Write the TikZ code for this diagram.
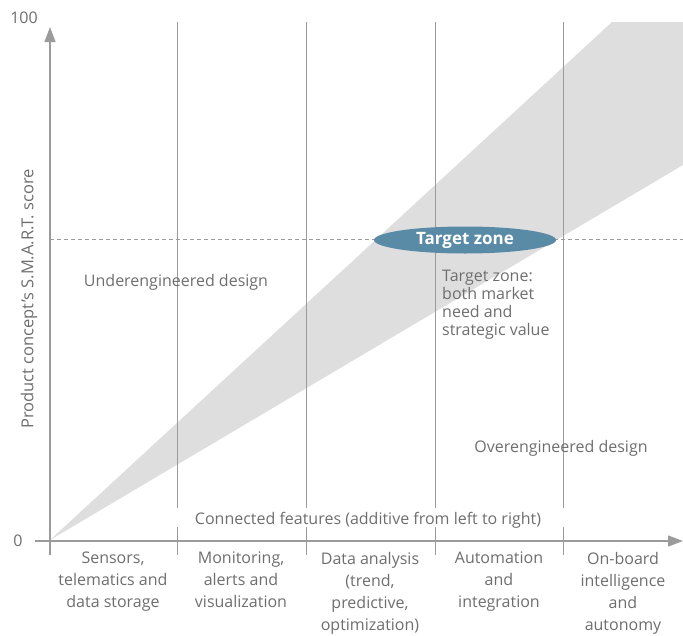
\documentclass[tikz,border=0pt]{standalone}
\usepackage{fontspec}
\setmainfont{Open Sans}
\usetikzlibrary{arrows.meta,shapes.geometric}
\definecolor{axisgray}{HTML}{9B9B9B}
\definecolor{bandgray}{HTML}{DEDEDE}
\definecolor{txtgray}{HTML}{6E6E6E}
\definecolor{zoneblue}{HTML}{5A8BA6}
\begin{document}
\begin{tikzpicture}[x=1pt,y=-1pt,
  lbl/.style={text=txtgray, font=\fontsize{16}{22}\selectfont, inner sep=0pt},
  collbl/.style={lbl, align=center, anchor=north},
  axisline/.style={draw=axisgray, line width=1.3pt, -{Triangle[length=15pt,width=11pt]}},
  divider/.style={draw=axisgray, line width=1pt},
  guide/.style={draw=axisgray, line width=1pt, dash pattern=on 4pt off 3pt}]
\useasboundingbox (0,0) rectangle (683,635);

% shaded band of well-engineered designs
\fill[bandgray] (50,540) -- (612,22) -- (683,22) -- (683,165) -- cycle;

% column dividers, interrupted by the feature caption
\foreach \cx in {177,306,435,563}{
  \draw[divider] (\cx,22) -- (\cx,508);
  \draw[divider] (\cx,527) -- (\cx,555);
}

% target level
\coordinate (gl) at (50,239);
\coordinate (gr) at (683,239);
\draw[guide] (gl) -- (gr);

% axes
\coordinate (ybot) at (50,555);
\coordinate (ytop) at (50,27);
\coordinate (xleft) at (35,541);
\coordinate (xright) at (683,541);
\draw[axisline] (ybot) -- (ytop);
\draw[axisline] (xleft) -- (xright);

\node[lbl] (hundred) at (24,18) {100};
\node[lbl] (zero) at (18,541) {0};
\node[lbl, rotate=90, font=\fontsize{16.5}{20}\selectfont] (ylab) at (29,299) {Product concept’s S.M.A.R.T. score};

\node[ellipse, fill=zoneblue, minimum width=182pt, minimum height=27pt, inner sep=0pt,
      text=white, font=\fontsize{17}{18}\selectfont\bfseries] (zone) at (465,240) {\raisebox{-1.5pt}{Target zone}};

\node[lbl, align=left, anchor=north west, font=\fontsize{16}{18}\selectfont] (zonenote) at (442,270)
  {Target zone:\\both market\\need and\\strategic value};
\node[lbl] (under) at (176,282) {Underengineered design};
\node[lbl] (over) at (561,448) {Overengineered design};
\node[lbl] (feat) at (368,520) {Connected features (additive from left to right)};

\node[collbl] (c1) at (113,552) {Sensors,\\telematics and\\data storage};
\node[collbl] (c2) at (241,552) {Monitoring,\\alerts and\\visualization};
\node[collbl] (c3) at (370,552) {Data analysis\\(trend,\\predictive,\\optimization)};
\node[collbl] (c4) at (499,552) {Automation\\and\\integration};
\node[collbl] (c5) at (623,552) {On-board\\intelligence\\and\\autonomy};
\end{tikzpicture}
\end{document}
